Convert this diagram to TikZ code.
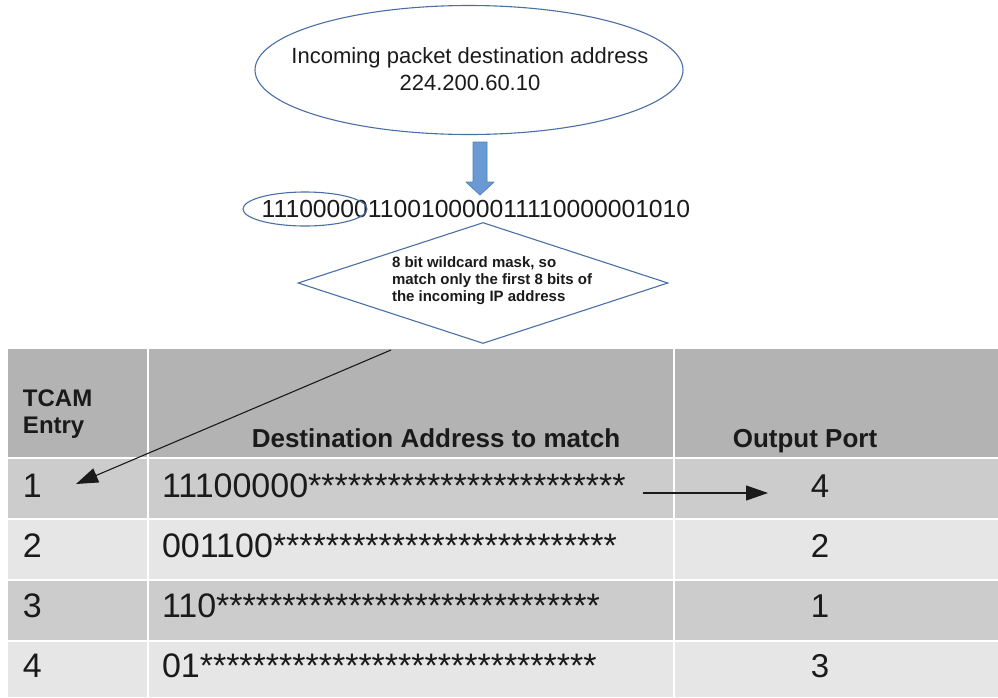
\documentclass[tikz,border=0pt]{standalone}
\usepackage{fontspec}
\setmainfont{Liberation Sans}
\usetikzlibrary{shapes.geometric,arrows.meta}

\definecolor{outline}{HTML}{4A6FA5}
\definecolor{arrowblue}{HTML}{6A9AD4}
\definecolor{arrowedge}{HTML}{5080BD}
\definecolor{headgray}{HTML}{B3B3B3}
\definecolor{darkrow}{HTML}{CCCCCC}
\definecolor{lightrow}{HTML}{E6E6E6}
\definecolor{ink}{HTML}{1A1A1A}

\begin{document}
\begin{tikzpicture}[x=1pt,y=-1pt,
  outl/.style={draw=outline, line width=1.1pt},
  plain/.style={inner sep=0pt, outer sep=0pt, text=ink},
  pointer/.style={draw=ink, line width=1.1pt, -{Triangle[length=22pt,width=15pt]}},
  headtext/.style={plain, font=\bfseries\fontsize{26}{25}\selectfont},
  rowtext/.style={plain, font=\fontsize{34}{38}\selectfont, anchor=base west},
  porttext/.style={plain, font=\fontsize{33}{38}\selectfont, anchor=base},
  gridline/.style={draw=white, line width=2pt}
]
\useasboundingbox (0,0) rectangle (998,697);

% incoming address bubble
\node[ellipse, outl, minimum width=428pt, minimum height=129pt, inner sep=0pt] (src) at (469,70) {};
\node[plain, align=center, font=\fontsize{22}{27}\selectfont, anchor=base] (srctext) at (470,90)
  {Incoming packet destination address\\224.200.60.10};

% conversion arrow
\draw[fill=arrowblue, draw=arrowedge, line width=0.8pt, line join=round]
  (473,142) -- (487,142) -- (487,182) -- (494,182) -- (480,195) -- (466,182) -- (473,182) -- cycle;

% binary form of the address and the masked prefix
\node[plain, font=\fontsize{24.7}{28}\selectfont, anchor=base] (bits) at (476,217)
  {11100000110010000011110000001010};
\node[ellipse, outl, minimum width=124pt, minimum height=34pt, inner sep=0pt] (prefix) at (305,209) {};

% wildcard decision
\node[diamond, outl, minimum width=370pt, minimum height=121pt, inner sep=0pt] (mask) at (483,283) {};
\node[plain, align=left, font=\bfseries\fontsize{15}{17}\selectfont, anchor=base west] (masktext) at (392,301)
  {8 bit wildcard mask, so\\match only the first 8 bits of\\the incoming IP address};

% TCAM table
\fill[headgray] (8,349) rectangle (998,458);
\fill[darkrow]  (8,458) rectangle (998,519);
\fill[lightrow] (8,519) rectangle (998,580);
\fill[darkrow]  (8,580) rectangle (998,641);
\fill[lightrow] (8,641) rectangle (998,697);
\draw[gridline] (148,349) -- (148,697) (674,349) -- (674,697)
  (8,458) -- (998,458) (8,519) -- (998,519) (8,580) -- (998,580) (8,641) -- (998,641);

\node[headtext, align=left, anchor=base west, font=\bfseries\fontsize{24}{27}\selectfont] (hentry) at (23,433) {TCAM\\Entry};
\node[headtext, anchor=base] (haddr) at (436,447) {Destination Address to match};
\node[headtext, anchor=base] (hport) at (805,447) {Output Port};

\node[rowtext] (e1) at (23,497) {1};
\node[rowtext] (e2) at (23,557) {2};
\node[rowtext] (e3) at (23,617) {3};
\node[rowtext] (e4) at (23,677) {4};

\node[rowtext] (a1) at (162,497) {11100000************************};
\node[rowtext] (a2) at (162,557) {001100**************************};
\node[rowtext] (a3) at (162,617) {110*****************************};
\node[rowtext] (a4) at (162,677) {01******************************};

\node[porttext] (p1) at (820,497) {4};
\node[porttext] (p2) at (820,557) {2};
\node[porttext] (p3) at (820,617) {1};
\node[porttext] (p4) at (820,677) {3};

% lookup arrows
\coordinate (lookstart) at (391,350);
\coordinate (lookend) at (76,484);
\draw[pointer] (lookstart) -- (lookend);
\coordinate (hitstart) at (643,493);
\coordinate (hitend) at (768,493);
\draw[pointer] (hitstart) -- (hitend);
\end{tikzpicture}
\end{document}
